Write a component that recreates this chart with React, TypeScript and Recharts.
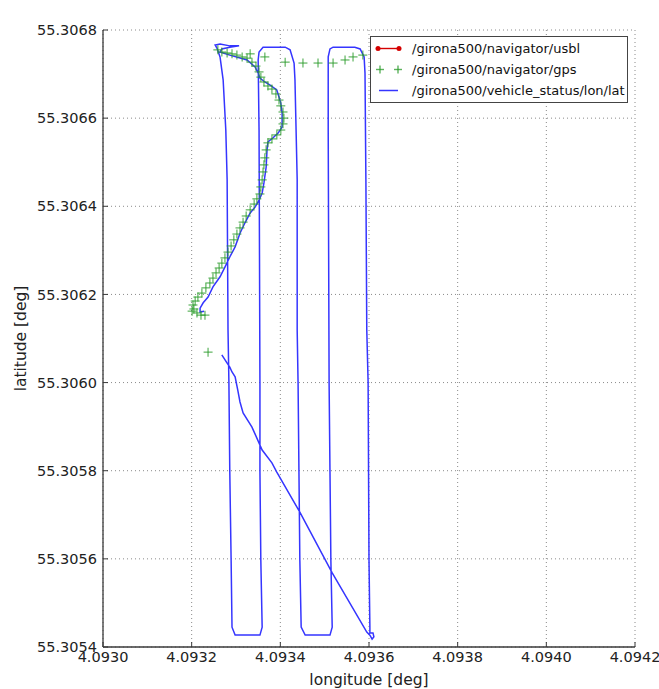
import React from "react";
import {
  ComposedChart,
  Line,
  Scatter,
  XAxis,
  YAxis,
  CartesianGrid,
  Legend,
  Label,
} from "recharts";

// axis ticks
const xTicks = [4.093, 4.0932, 4.0934, 4.0936, 4.0938, 4.094, 4.0942];
const yTicks = [55.3054, 55.3056, 55.3058, 55.306, 55.3062, 55.3064, 55.3066, 55.3068];

// /girona500/vehicle_status/lon/lat (track order)
const vehicleLon = [
  4.093268, 4.09328, 4.093286, 4.093291, 4.093298, 4.093304, 4.093309, 4.093316, 4.093336, 4.093359,
  4.093381, 4.093392, 4.093444, 4.093517, 4.093595, 4.093602, 4.093607, 4.093611, 4.093609, 4.093602,
  4.093602, 4.0936, 4.093598, 4.093595, 4.093593, 4.093591, 4.093589, 4.09358, 4.093568, 4.093519,
  4.093512, 4.093508, 4.093508, 4.09351, 4.093512, 4.093514, 4.093517, 4.093512, 4.093456, 4.093447,
  4.093444, 4.093442, 4.09344, 4.093438, 4.093438, 4.093433, 4.093431, 4.093422, 4.093411, 4.093361,
  4.093352, 4.09335, 4.093352, 4.093354, 4.093354, 4.093356, 4.093359, 4.093354, 4.093298, 4.093291,
  4.093289, 4.093286, 4.093284, 4.093282, 4.09328, 4.093277, 4.093271, 4.093264, 4.093257, 4.093253,
  4.093264, 4.093286, 4.093307, 4.093286, 4.093268, 4.093264, 4.093286, 4.093325, 4.093343, 4.09335,
  4.093354, 4.093365, 4.093377, 4.093392, 4.093397, 4.093401, 4.093404, 4.093404, 4.093404, 4.093395,
  4.093383, 4.093372, 4.09337, 4.093368, 4.093363, 4.093359, 4.093352, 4.093343, 4.093332, 4.09332,
  4.093309, 4.093298, 4.093286, 4.093275, 4.093264, 4.093248, 4.093237, 4.093226, 4.093219, 4.093219,
  4.093228,
];
const vehicleLat = [
  55.306063, 55.306044, 55.306035, 55.306024, 55.306013, 55.305983, 55.305956, 55.305931, 55.305899, 55.305847,
  55.305818, 55.305797, 55.305706, 55.305568, 55.305434, 55.305427, 55.305418, 55.305423, 55.305432, 55.305432,
  55.305445, 55.305597, 55.306, 55.306119, 55.30646, 55.306702, 55.306739, 55.306757, 55.306761, 55.306761,
  55.306757, 55.306739, 55.306573, 55.306, 55.305797, 55.305597, 55.305445, 55.305427, 55.305427, 55.305445,
  55.305597, 55.305797, 55.306, 55.306119, 55.30646, 55.306687, 55.306725, 55.306755, 55.306761, 55.306761,
  55.30675, 55.306732, 55.306573, 55.306, 55.305797, 55.305597, 55.305445, 55.305427, 55.305427, 55.305445,
  55.305597, 55.305797, 55.306, 55.306119, 55.30646, 55.306573, 55.306687, 55.306739, 55.306759, 55.306766,
  55.306768, 55.306764, 55.306764, 55.306761, 55.306757, 55.30675, 55.306743, 55.306732, 55.306716, 55.306702,
  55.306691, 55.306682, 55.306675, 55.306664, 55.306648, 55.306634, 55.306612, 55.306596, 55.30658, 55.306566,
  55.306555, 55.306546, 55.306528, 55.306489, 55.306453, 55.30643, 55.306414, 55.306398, 55.306385, 55.306362,
  55.306339, 55.306308, 55.306285, 55.306262, 55.30624, 55.306217, 55.306194, 55.306181, 55.306169, 55.30616,
  55.306162,
];

// /girona500/navigator/gps fixes
const gpsLon = [
  4.093259, 4.093268, 4.09328, 4.093291, 4.093302, 4.093314, 4.093325, 4.093336, 4.093345, 4.093352,
  4.093356, 4.093363, 4.093372, 4.093381, 4.09339, 4.093397, 4.093401, 4.093406, 4.093408, 4.093406,
  4.093401, 4.093392, 4.093381, 4.093372, 4.093368, 4.093365, 4.093363, 4.093361, 4.093359, 4.093356,
  4.093354, 4.093347, 4.093341, 4.093332, 4.093323, 4.093316, 4.093309, 4.093302, 4.093295, 4.093289,
  4.093282, 4.093275, 4.093268, 4.093262, 4.093255, 4.093248, 4.093241, 4.093232, 4.093223, 4.093214,
  4.093208, 4.093203, 4.093205, 4.093212, 4.093221, 4.09323, 4.093201,
  4.093332, 4.093365, 4.093411, 4.093451, 4.093485, 4.093519, 4.093546, 4.093564, 4.093586,
  4.093237,
];
const gpsLat = [
  55.306755, 55.30675, 55.306748, 55.306746, 55.306743, 55.306739, 55.306736, 55.306727, 55.306718, 55.306705,
  55.306693, 55.306682, 55.306673, 55.306666, 55.306655, 55.306641, 55.306628, 55.306614, 55.3066, 55.306587,
  55.306573, 55.306562, 55.306553, 55.306544, 55.306528, 55.30651, 55.306494, 55.306478, 55.30646, 55.306444,
  55.306428, 55.306417, 55.306405, 55.306392, 55.306378, 55.306364, 55.306351, 55.306337, 55.306324, 55.30631,
  55.306296, 55.306283, 55.306271, 55.30626, 55.306249, 55.306237, 55.306226, 55.306215, 55.306203, 55.306194,
  55.306185, 55.306176, 55.306167, 55.306158, 55.306153, 55.306153, 55.306162,
  55.306746, 55.306739, 55.306727, 55.306725, 55.306725, 55.306725, 55.306732, 55.306739, 55.306743,
  55.306069,
];

const vehicleData = vehicleLon.map((lon, i) => ({ lon, lat: vehicleLat[i] }));
const gpsData = gpsLon.map((lon, i) => ({ lon, lat: gpsLat[i] }));

const FONT = "'DejaVu Sans', sans-serif";
const BLUE = "#3535ff";
const GREEN = "#279a27";
const RED = "#d40000";
const FRAME = "#3a3a3a";

const tickStyle = { fontSize: 14.5, fill: "#222", fontFamily: FONT };

const Plus = (props: any) => {
  const { cx, cy } = props;
  if (cx == null || cy == null) return <g />;
  return (
    <g stroke={GREEN} strokeWidth={1.5} strokeOpacity={0.6}>
      <line x1={cx - 4.5} y1={cy} x2={cx + 4.5} y2={cy} />
      <line x1={cx} y1={cy - 4.5} x2={cx} y2={cy + 4.5} />
    </g>
  );
};

const legendRows = [
  { name: "/girona500/navigator/usbl", kind: "usbl" },
  { name: "/girona500/navigator/gps", kind: "gps" },
  { name: "/girona500/vehicle_status/lon/lat", kind: "vehicle" },
];

const LegendBox = () => (
  <div
    style={{
      border: "1px solid #444",
      background: "#fff",
      padding: "1px 0",
      fontFamily: FONT,
      fontSize: 13,
      color: "#111",
    }}
  >
    {legendRows.map((r) => (
      <div key={r.name} style={{ display: "flex", alignItems: "center", height: 21 }}>
        <svg width={41} height={21} style={{ flex: "none" }}>
          {r.kind === "usbl" && (
            <g>
              <line x1={7} y1={10.5} x2={28} y2={10.5} stroke={RED} strokeWidth={1.4} />
              <circle cx={7} cy={10.5} r={2.5} fill={RED} />
              <circle cx={28} cy={10.5} r={2.5} fill={RED} />
            </g>
          )}
          {r.kind === "gps" && (
            <g stroke={GREEN} strokeWidth={1.4} strokeOpacity={0.75}>
              <line x1={5} y1={10.5} x2={13} y2={10.5} />
              <line x1={9} y1={6.5} x2={9} y2={14.5} />
              <line x1={23} y1={10.5} x2={31} y2={10.5} />
              <line x1={27} y1={6.5} x2={27} y2={14.5} />
            </g>
          )}
          {r.kind === "vehicle" && (
            <line x1={8} y1={10.5} x2={27} y2={10.5} stroke={BLUE} strokeWidth={1.5} />
          )}
        </svg>
        <span style={{ whiteSpace: "nowrap" }}>{r.name}</span>
      </div>
    ))}
  </div>
);

const PositionChart: React.FC = () => {
  return (
    <div style={{ position: "absolute", left: 0, top: 0, background: "#fff" }}>
      <ComposedChart
        width={659}
        height={689}
        margin={{ top: 30, right: 24, bottom: 0, left: 0 }}
        style={{ fontFamily: FONT }}
      >
        <CartesianGrid stroke="#8a8a8a" strokeDasharray="1 3" strokeWidth={1} />
        <XAxis
          dataKey="lon"
          type="number"
          domain={[4.093, 4.0942]}
          allowDataOverflow
          ticks={xTicks}
          interval={0}
          tickFormatter={(v: number) => v.toFixed(4)}
          height={42}
          tickSize={-5}
          tickMargin={10}
          tick={tickStyle}
          axisLine={{ stroke: FRAME, strokeWidth: 1.3 }}
          tickLine={{ stroke: FRAME }}
        >
          <Label
            value="longitude [deg]"
            position="insideBottom"
            offset={4}
            style={{ fontSize: 15.5, fill: "#222", fontFamily: FONT }}
          />
        </XAxis>
        <XAxis
          xAxisId="top"
          orientation="top"
          type="number"
          domain={[4.093, 4.0942]}
          allowDataOverflow
          ticks={xTicks}
          interval={0}
          height={0}
          tickSize={-5}
          tick={false}
          axisLine={{ stroke: FRAME, strokeWidth: 1.3 }}
          tickLine={{ stroke: FRAME }}
        >
          <Label
            value="position"
            position="top"
            offset={7}
            style={{ fontSize: 15, fill: "#111", fontFamily: FONT }}
          />
        </XAxis>
        <YAxis
          dataKey="lat"
          type="number"
          domain={[55.3054, 55.3068]}
          allowDataOverflow
          ticks={yTicks}
          interval={0}
          tickFormatter={(v: number) => v.toFixed(4)}
          width={103}
          tickSize={-5}
          tickMargin={11}
          tick={tickStyle}
          axisLine={{ stroke: FRAME, strokeWidth: 1.3 }}
          tickLine={{ stroke: FRAME }}
        >
          <Label
            value="latitude [deg]"
            angle={-90}
            position="insideLeft"
            offset={20}
            style={{ fontSize: 15.5, fill: "#222", fontFamily: FONT, textAnchor: "middle" }}
          />
        </YAxis>
        <YAxis
          yAxisId="right"
          orientation="right"
          type="number"
          domain={[55.3054, 55.3068]}
          allowDataOverflow
          ticks={yTicks}
          interval={0}
          width={0}
          tickSize={-5}
          tick={false}
          axisLine={{ stroke: FRAME, strokeWidth: 1.3 }}
          tickLine={{ stroke: FRAME }}
        />
        <Line
          data={vehicleData}
          dataKey="lat"
          type="linear"
          stroke={BLUE}
          strokeWidth={1.5}
          dot={false}
          activeDot={false}
          isAnimationActive={false}
        />
        <Scatter
          data={gpsData}
          dataKey="lat"
          shape={Plus}
          isAnimationActive={false}
        />
        <Legend
          layout="vertical"
          verticalAlign="middle"
          align="center"
          width={258}
          wrapperStyle={{ left: 370, top: 36, width: 258 }}
          content={() => <LegendBox />}
        />
      </ComposedChart>
    </div>
  );
};

export default function App() {
  return <PositionChart />;
}
